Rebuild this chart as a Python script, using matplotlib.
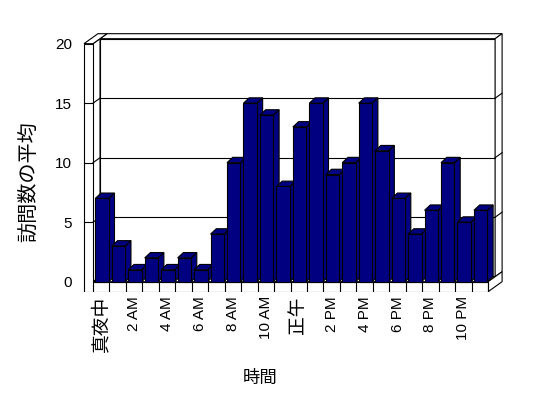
import matplotlib
matplotlib.use('Agg')
import matplotlib.pyplot as plt
from matplotlib.patches import Polygon

# average visits per hour of the day
hours = list(range(24))
visits = [7, 3, 1, 2, 1, 2, 1, 4, 10, 15, 14, 8, 13, 15, 9, 10, 15, 11, 7, 4, 6, 10, 5, 6]
tick_labels = ['真夜中', '2 AM', '4 AM', '6 AM', '8 AM', '10 AM',
               '正午', '2 PM', '4 PM', '6 PM', '8 PM', '10 PM']
y_ticks = [0, 5, 10, 15, 20]

plt.rcParams['font.family'] = ['Liberation Sans', 'Noto Sans CJK JP']

W, H = 548, 398
fig = plt.figure(figsize=(W / 100, H / 100), dpi=100)
ax = fig.add_axes([80 / W, 1 - 292 / H, 430 / W, 262 / H])
ax.set_xlim(-0.79, 25.33)
ax.set_ylim(-0.866, 21.15)

n = len(hours)
top = y_ticks[-1]
DX, DY = 0.425, 0.42      # one step of depth, in data units
WT, FT = 0.55, 0.84       # wall and floor thickness
lw = 0.8


def face(pts, z=1):
    ax.add_patch(Polygon(pts, closed=True, facecolor='white',
                         edgecolor='black', lw=lw, zorder=z))


# walls and floor
face([(DX, DY), (n + DX, DY), (n + DX, top + DY), (DX, top + DY)])
face([(DX, top + DY), (n + DX, top + DY), (n + 2 * DX, top + 2 * DY), (2 * DX, top + 2 * DY)])
face([(n + DX, DY), (n + 2 * DX, 2 * DY), (n + 2 * DX, top + 2 * DY), (n + DX, top + DY)])
face([(0, 0), (DX, DY), (DX, top + DY), (0, top)])
face([(-WT, top), (0, top), (2 * DX, top + 2 * DY), (-WT + 2 * DX, top + 2 * DY)])
face([(0, 0), (n, 0), (n + DX, DY), (DX, DY)])
face([(n, -FT), (n + 2 * DX, -FT + 2 * DY), (n + 2 * DX, 2 * DY), (n, 0)])
face([(-WT, -FT), (n, -FT), (n, 0), (0, 0), (0, top), (-WT, top)])

# floor dividers
ax.vlines(range(0, n + 1), -FT, 0, color='black', lw=lw, zorder=2)

# gridlines on the back wall, ticks on the left wall
for v in y_ticks[1:-1]:
    ax.plot([DX, n + DX], [v + DY, v + DY], color='black', lw=lw, zorder=2)
    ax.plot([0, DX], [v, v + DY], color='black', lw=lw, zorder=2)
    ax.plot([n + DX, n + 2 * DX], [v + DY, v + 2 * DY], color='black', lw=lw, zorder=2)
    ax.plot([-WT, 0], [v, v], color='black', lw=lw, zorder=2)

# bars, drawn left to right so each front hides the previous side
bw, off = 0.815, 0.14
bdx, bdy = 0.35, 0.45
navy = '#000080'
bars = ax.bar([h + off for h in hours], visits, width=bw, align='edge',
              color=navy, edgecolor='black', lw=lw)
for i, (rect, v) in enumerate(zip(bars, visits)):
    x0 = hours[i] + off
    z = 3 + i * 0.1
    ax.add_patch(Polygon([(x0 + bw, 0), (x0 + bw + bdx, bdy), (x0 + bw + bdx, v + bdy), (x0 + bw, v)],
                         facecolor=navy, edgecolor='black', lw=lw, zorder=z))
    ax.add_patch(Polygon([(x0, v), (x0 + bw, v), (x0 + bw + bdx, v + bdy), (x0 + bdx, v + bdy)],
                         facecolor=navy, edgecolor='black', lw=lw, zorder=z))
    rect.set_zorder(z + 0.05)

for s in ax.spines.values():
    s.set_visible(False)

ax.set_yticks(y_ticks)
ax.tick_params(axis='y', length=0, pad=5.8, labelsize=11)
ax.set_xticks([h + 0.5 for h in hours[::2]], tick_labels, rotation=90, va='top')
ax.tick_params(axis='x', length=0, pad=3, labelsize=11)
for t in ax.get_xticklabels():
    if not t.get_text().isascii():
        t.set_fontsize(13.5)

fig.text(29 / W, 1 - 182 / H, '訪問数の平均', rotation=90, ha='center', va='center', fontsize=14.5)
fig.text(260 / W, 1 - 378 / H, '時間', ha='center', va='center', fontsize=12.5)

fig.savefig('out.png', dpi=100)
